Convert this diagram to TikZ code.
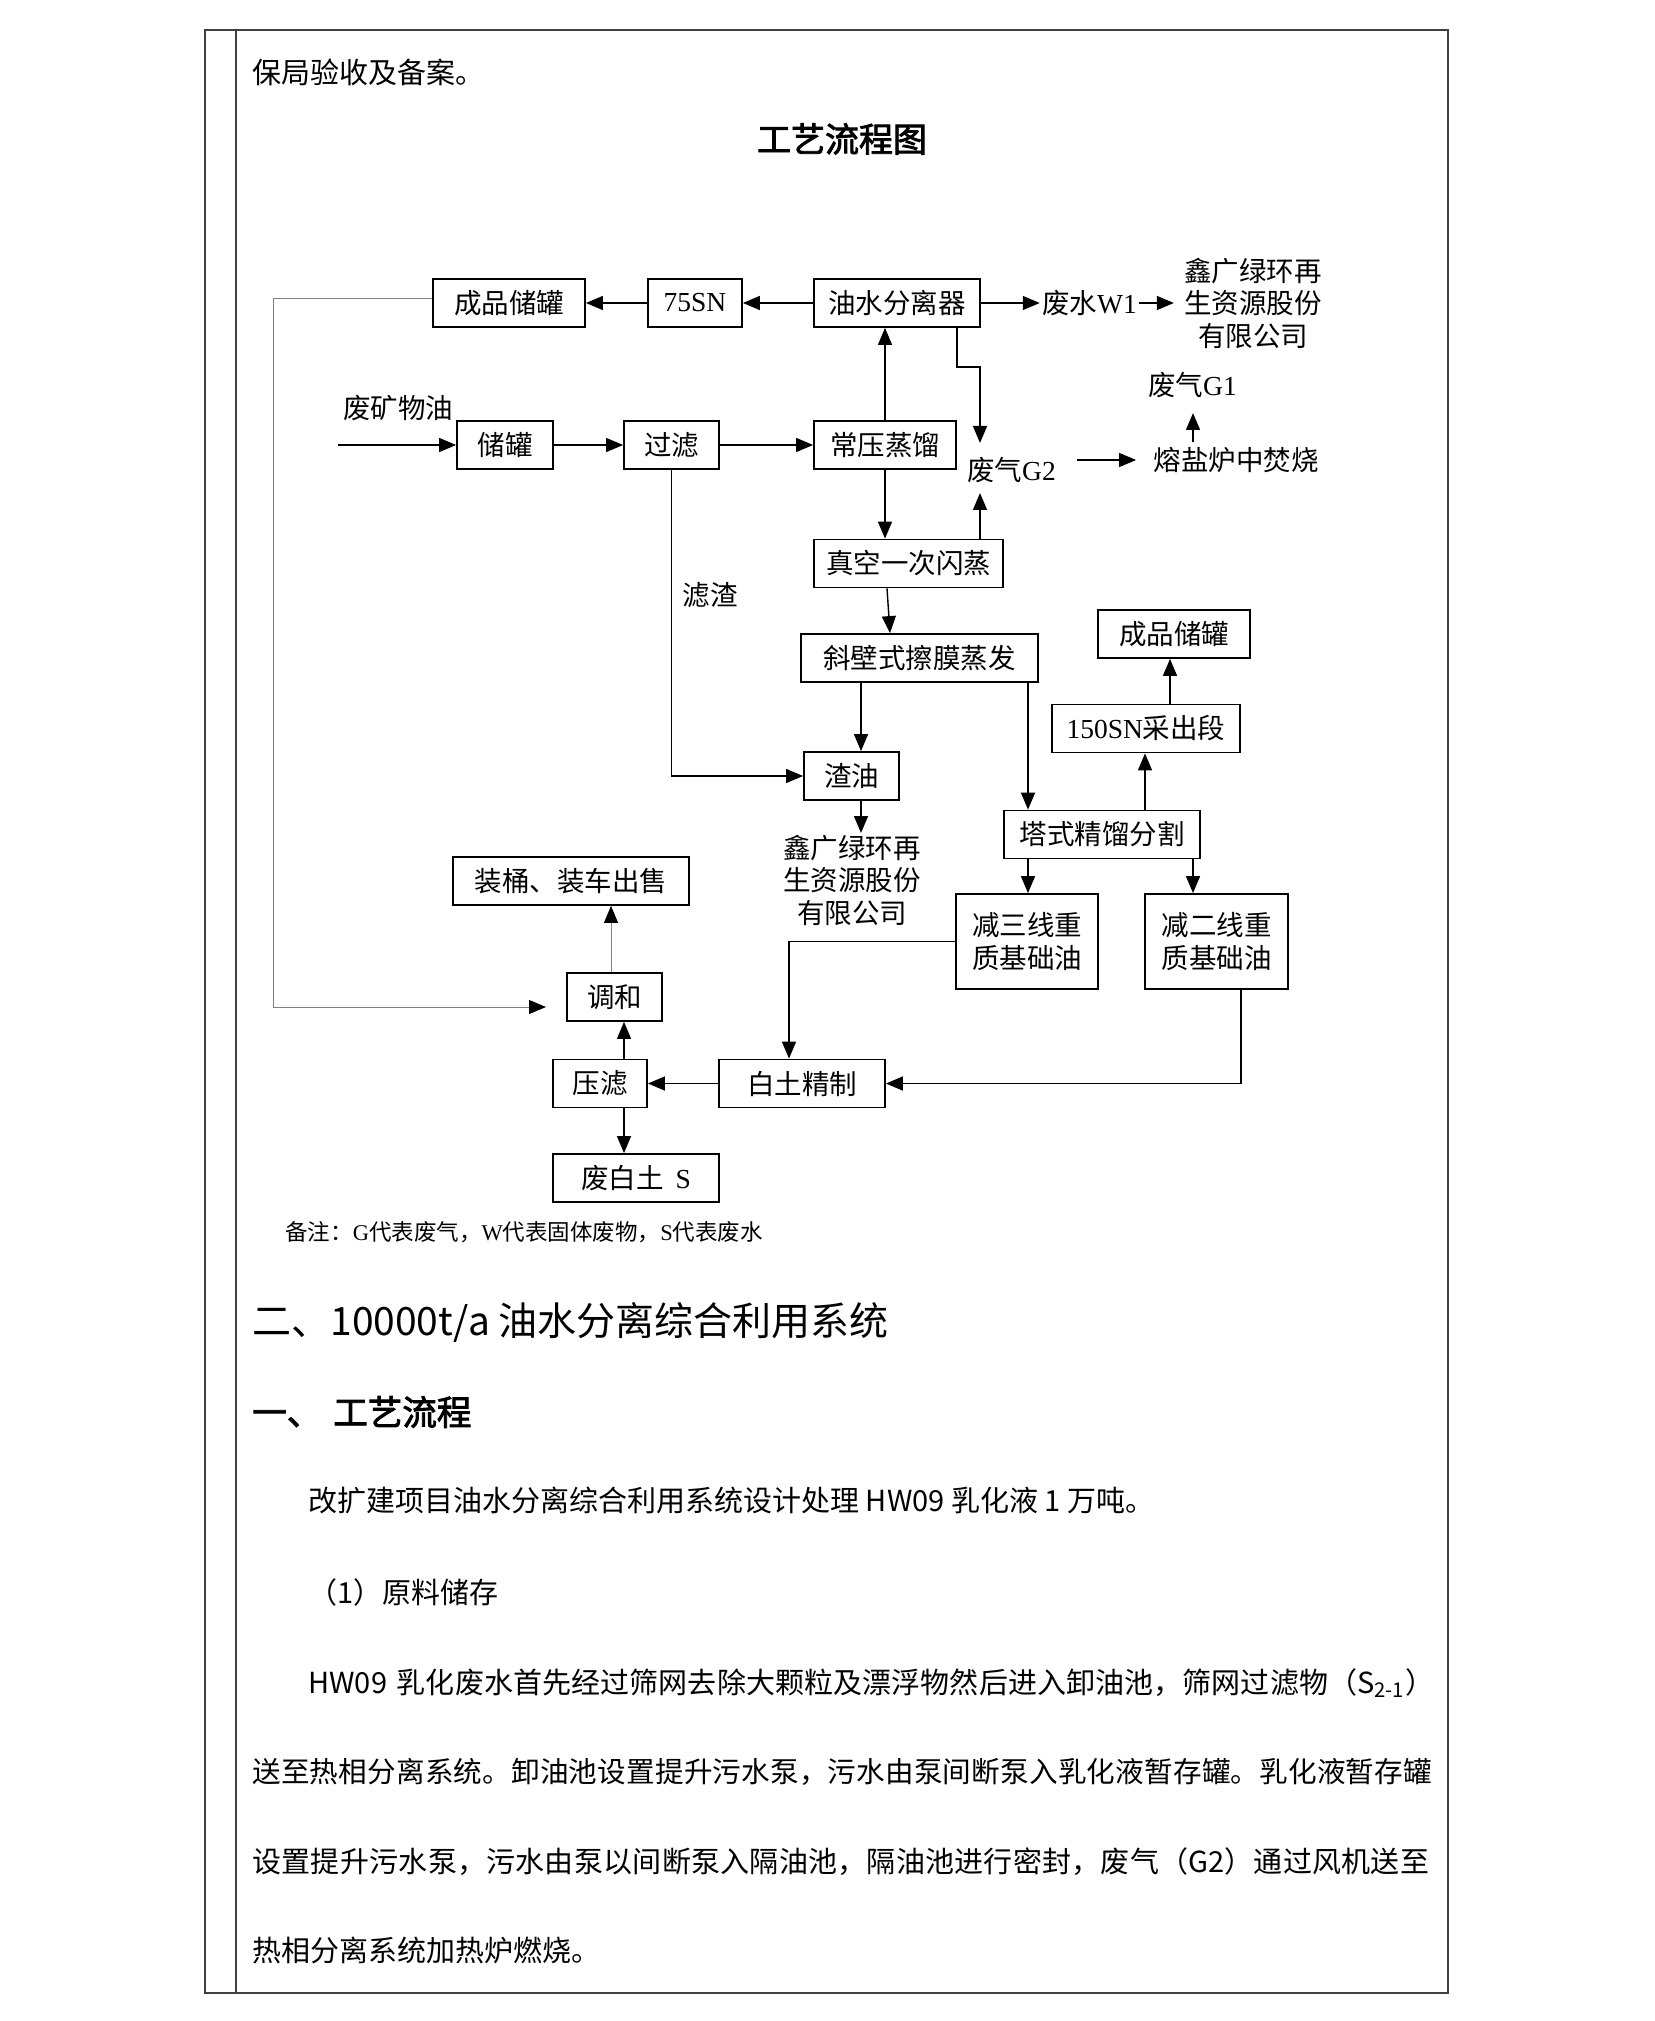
\documentclass[tikz,border=0pt]{standalone}
\usepackage{fontspec}
\setmainfont{Noto Sans CJK SC}[AutoFakeBold=2.5]
\newfontfamily\latf{Liberation Serif}[Scale=1.0]
\newcommand{\dglat}[1]{{\latf #1}}
\usetikzlibrary{arrows.meta,calc}
\XeTeXlinebreaklocale "zh"
\XeTeXlinebreakskip=0pt plus 1pt minus 0.2pt
\tikzset{
  dgfont/.style={font=\fontsize{13.75pt}{16.25pt}\selectfont},
  box/.style={draw, line width=0.9pt, inner sep=0pt, minimum height=24pt, dgfont},
  txt/.style={inner sep=0pt, dgfont, text height=12pt, text depth=1.75pt},
  mtxt/.style={inner sep=0pt, dgfont, align=center},
  arr/.style={line width=0.7pt, -{Triangle[length=8.5pt,width=7pt]}},
  gline/.style={line width=0.5pt, draw=black!50, -{Triangle[length=8.5pt,width=7pt,color=black]}},
  frame/.style={line width=0.7pt, draw=black!75},
  body/.style={inner sep=0pt, anchor=west, font=\fontsize{14.5pt}{17pt}\selectfont},
}
\begin{document}
\begin{tikzpicture}[x=0.5pt,y=-0.5pt]
\useasboundingbox (0,0) rectangle (1654,2021);
% page frame
\draw[frame] (205,30) rectangle (1448,1993);
\draw[frame] (236,30) -- (236,1993);

% text above
\node[body] (t0) at (252,72) {保局验收及备案。};
\node[inner sep=0pt, font=\fontsize{17pt}{20pt}\selectfont\bfseries] (title) at (842,139) {工艺流程图};

% ---- diagram nodes ----
\node[box, minimum width=76pt] (cpA) at (509,303) {成品储罐};
\node[box, minimum width=47pt] (snA) at (695,303) {\dglat{75SN}};
\node[box, minimum width=83pt] (ysf) at (897,303) {油水分离器};
\node[txt, inner xsep=1pt] (fs) at (1089.5,303) {废水\dglat{W1}};
\node[mtxt, inner xsep=5pt] (xgA) at (1253,303) {鑫广绿环再\\生资源股份\\有限公司};

\node[txt] (fkwy) at (398,408) {废矿物油};
\coordinate (in) at (338,445);
\node[box, minimum width=48pt] (cg) at (505,445) {储罐};
\node[box, minimum width=47.5pt] (glv) at (671.5,445) {过滤};
\node[box, minimum width=71pt] (cy) at (885,445) {常压蒸馏};

\node[txt] (g2) at (1011.5,470) {废气\dglat{G2}};
\node[txt] (rf) at (1236,460) {熔盐炉中焚烧};
\node[txt] (g1) at (1192.5,385) {废气\dglat{G1}};
\coordinate (g2in) at (980,443);
\coordinate (g2up) at (980,493);
\coordinate (g1in) at (1193,413);
\coordinate (k1) at (957,367);

\node[box, minimum width=94.5pt] (zk) at (908.5,563.5) {真空一次闪蒸};
\node[txt] (lz) at (710,595) {滤渣};
\node[box, minimum width=118.5pt] (xb) at (919.5,658) {斜壁式擦膜蒸发};
\node[box, minimum width=47.5pt] (zy) at (851.5,776) {渣油};
\node[mtxt] (xgB) at (852,880) {鑫广绿环再\\生资源股份\\有限公司};
\coordinate (xgBin) at (861,833);

\node[box, minimum width=76pt] (cpB) at (1174,634) {成品储罐};
\node[box, minimum width=94pt] (snB) at (1146,728.5) {\dglat{150SN}采出段};
\node[box, minimum width=98pt] (ts) at (1102,834.5) {塔式精馏分割};
\node[box, minimum width=71pt, minimum height=47.5pt, align=center] (j3) at (1027,941.5) {减三线重\\质基础油};
\node[box, minimum width=71.5pt, minimum height=47.5pt, align=center] (j2) at (1216.5,941.5) {减二线重\\质基础油};

\node[box, minimum width=118pt] (zt) at (571,881) {装桶、装车出售};
\node[box, minimum width=47.5pt] (th) at (614.5,997) {调和};
\node[box, minimum width=83pt] (bt) at (802,1083.5) {白土精制};
\node[box, minimum width=47pt] (yl) at (600,1083.5) {压滤};
\node[box, minimum width=83pt] (fbt) at (636,1178) {废白土\hspace{6pt}\dglat{S}};

\coordinate (gc1) at (273,299);
\coordinate (gc2) at (273,1007);
\coordinate (thIn) at (546,1007);

\node[inner sep=0pt, anchor=west, font=\fontsize{11.25pt}{13pt}\selectfont] (note) at (285,1232)
  {备注：\dglat{G}代表废气，\dglat{W}代表固体废物，\dglat{S}代表废水};

% ---- connectors ----
\draw[arr] (ysf.west) -- (snA.east);
\draw[arr] (snA.west) -- (cpA.east);
\draw[arr] (ysf.east) -- (fs.west);
\draw[arr] (fs.east) -- (xgA.west);
\draw[gline] (cpA.west |- gc1) -- (gc1) -- (gc2) -- (thIn);

\draw[arr] (in) -- (cg.west);
\draw[arr] (cg.east) -- (glv.west);
\draw[arr] (glv.east) -- (cy.west);
\draw[arr] (cy.north) -- (cy.north |- ysf.south);
\draw[arr] (ysf.south -| k1) -- (k1) -| (g2in);
\draw[arr] ($(g2.east |- rf.west)+(21,0)$) -- ($(rf.west)+(-17,0)$);
\draw[arr, shorten <=2pt] (rf.north -| g1in) -- (g1in);

\draw[arr] (cy.south) -- (cy.south |- zk.north);
\draw[arr] (zk.north -| g2up) -- (g2up);
\draw[arr] ($(zk.south)+(-21.5,0)$) -- ($(xb.north)+(-29.5,0)$);
\draw[arr] (glv.south) |- (zy.west);
\draw[arr] ($(xb.south)+(-58.5,0)$) -- ($(zy.north)+(9.5,0)$);
\draw[arr] (zy.south -| xgBin) -- (xgBin);

\draw[arr] ($(xb.south)+(108.5,0)$) -- ($(ts.north)+(-74,0)$);
\draw[arr] ($(ts.north)+(43,0)$) -- ($(snB.south)+(-1,0)$);
\draw[arr] ($(snB.north)+(24,0)$) -- ($(cpB.south)+(-4,0)$);
\draw[arr] ($(ts.south)+(-74,0)$) -- ($(j3.north)+(1,0)$);
\draw[arr] ($(ts.south)+(91,0)$) -- ($(j2.north)+(-23.5,0)$);
\draw[arr] (j3.west) -| ($(bt.north)+(-13,0)$);
\draw[arr] ($(j2.south)+(24.5,0)$) |- (bt.east);
\draw[arr] (bt.west) -- (yl.east);
\draw[arr] ($(yl.north)+(24,0)$) -- ($(th.south)+(9.5,0)$);
\draw[gline] ($(th.north)+(-3.5,0)$) -- ($(zt.south)+(40,0)$);
\draw[arr] ($(yl.south)+(24,0)$) -- ($(fbt.north)+(-12,0)$);

% text below
\node[inner sep=0pt, anchor=west, font=\fontsize{19.5pt}{23pt}\selectfont] (h2) at (252,1322) {二、10000t/a 油水分离综合利用系统};
\node[inner sep=0pt, anchor=west, font=\fontsize{17.25pt}{20pt}\selectfont\bfseries] (h3) at (252,1412) {一、\hspace{6pt}工艺流程};
\node[body] (p1) at (308,1500) {改扩建项目油水分离综合利用系统设计处理 HW09 乳化液 1 万吨。};
\node[body] (p2) at (308,1592) {（1）原料储存};
\node[body, text width=564.5pt] (p3) at (308,1683) {\noindent\parfillskip=0pt HW09 乳化废水首先经过筛网去除大颗粒及漂浮物然后进入卸油池，筛网过滤物（S\textsubscript{2-1}）\par};
\node[body, text width=592.5pt, font=\fontsize{14.3pt}{17pt}\selectfont] (p4) at (252,1772) {\noindent\parfillskip=0pt 送至热相分离系统。卸油池设置提升污水泵，污水由泵间断泵入乳化液暂存罐。乳化液暂存罐\par};
\node[body, text width=592.5pt] (p5) at (252,1862) {\noindent\parfillskip=0pt 设置提升污水泵，污水由泵以间断泵入隔油池，隔油池进行密封，废气（G2）通过风机送至\par};
\node[body] (p6) at (252,1950) {热相分离系统加热炉燃烧。};
\end{tikzpicture}
\end{document}
